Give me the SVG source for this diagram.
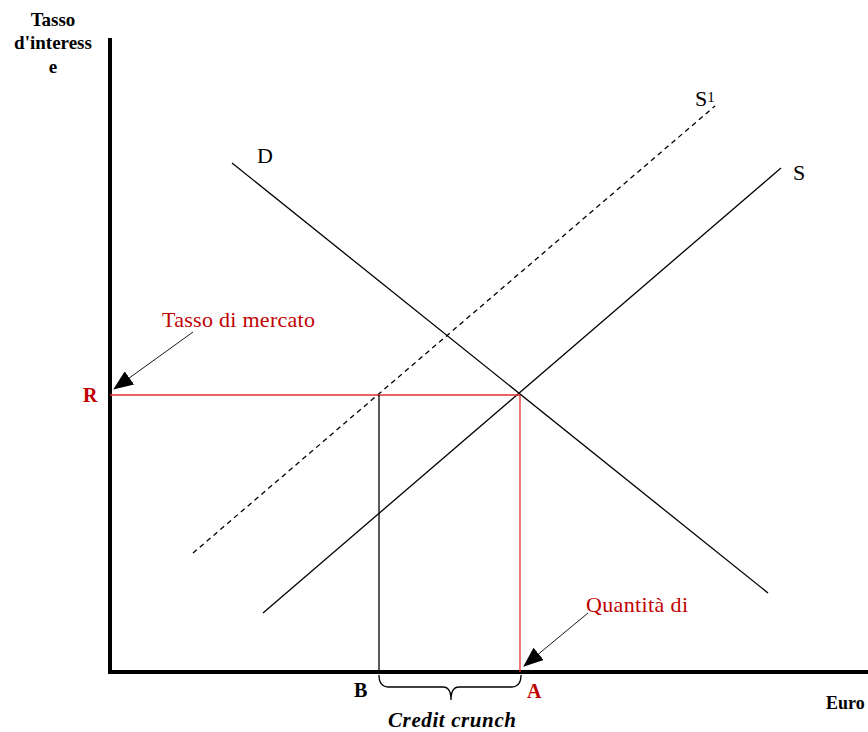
<svg xmlns="http://www.w3.org/2000/svg" width="868" height="732" viewBox="0 0 868 732">
<style>
text{font-family:"Liberation Serif","DejaVu Serif",serif}
.lbl{font-size:22px;fill:#000}
.red{fill:#c00000}
.b{font-weight:bold}
.ax{stroke:#000;stroke-width:4;fill:none}
.ln{stroke:#000;stroke-width:1.3;fill:none}
.rl{stroke:#e03030;stroke-width:1.3;fill:none}
.ar{stroke:#000;stroke-width:0.9;fill:none}
</style>
<defs>
<marker id="ahb" markerWidth="20" markerHeight="16" refX="19" refY="8" orient="auto" markerUnits="userSpaceOnUse" viewBox="0 0 20 16">
<path d="M0,0 L20,8 L0,16 Z" fill="#000"/>
</marker>
</defs>
<g id="axes">
<line class="ax" x1="110" y1="38" x2="110" y2="674"/>
<line class="ax" x1="108" y1="672" x2="868" y2="672"/>
</g>
<g id="connectors">
<line id="D" class="ln" x1="232" y1="163" x2="768" y2="593"/>
<line id="S" class="ln" x1="263" y1="613" x2="781" y2="168"/>
<line id="S1" class="ln" x1="193" y1="553" x2="715" y2="106" stroke-dasharray="5,4"/>
<line class="rl" x1="110" y1="395" x2="520" y2="395"/>
<line class="rl" x1="520" y1="395" x2="520" y2="672"/>
<line class="ln" x1="379" y1="395" x2="379" y2="672"/>
<path class="ln" d="M379,675 Q379,687 389,687 L443,687 Q451,687 451,700 Q451,687 459,687 L511,687 Q521,687 521,675"/>
<line class="ar" x1="193" y1="332" x2="114" y2="389" marker-end="url(#ahb)"/>
<line class="ar" x1="588" y1="613" x2="524" y2="666" marker-end="url(#ahb)"/>
</g>
<g id="ylabel">
<text class="b" font-size="19" text-anchor="middle"><tspan x="53" y="26">Tasso</tspan><tspan x="53" y="49">d'interess</tspan><tspan x="53" y="73">e</tspan></text>
</g>
<g id="xlabel"><text class="b" font-size="18" x="826" y="709">Euro</text></g>
<g id="labelD"><text class="lbl" x="257" y="163">D</text></g>
<g id="labelS"><text class="lbl" x="793" y="180">S</text></g>
<g id="labelS1"><text class="lbl" x="695" y="106">S<tspan font-size="15" dy="-4">1</tspan></text></g>
<g id="tassoMercato"><text class="lbl red" font-size="21" x="162" y="327" textLength="153">Tasso di mercato</text></g>
<g id="quantita"><text class="lbl red" font-size="21" x="586" y="612" textLength="102">Quantità di</text></g>
<g id="R"><text class="b red" font-size="20" x="83" y="402">R</text></g>
<g id="B"><text class="b" font-size="20" x="354" y="697">B</text></g>
<g id="A"><text class="b red" font-size="20" x="527" y="698">A</text></g>
<g id="crunch"><text class="b" font-size="21" font-style="italic" x="388" y="727" textLength="128">Credit crunch</text></g>
</svg>
